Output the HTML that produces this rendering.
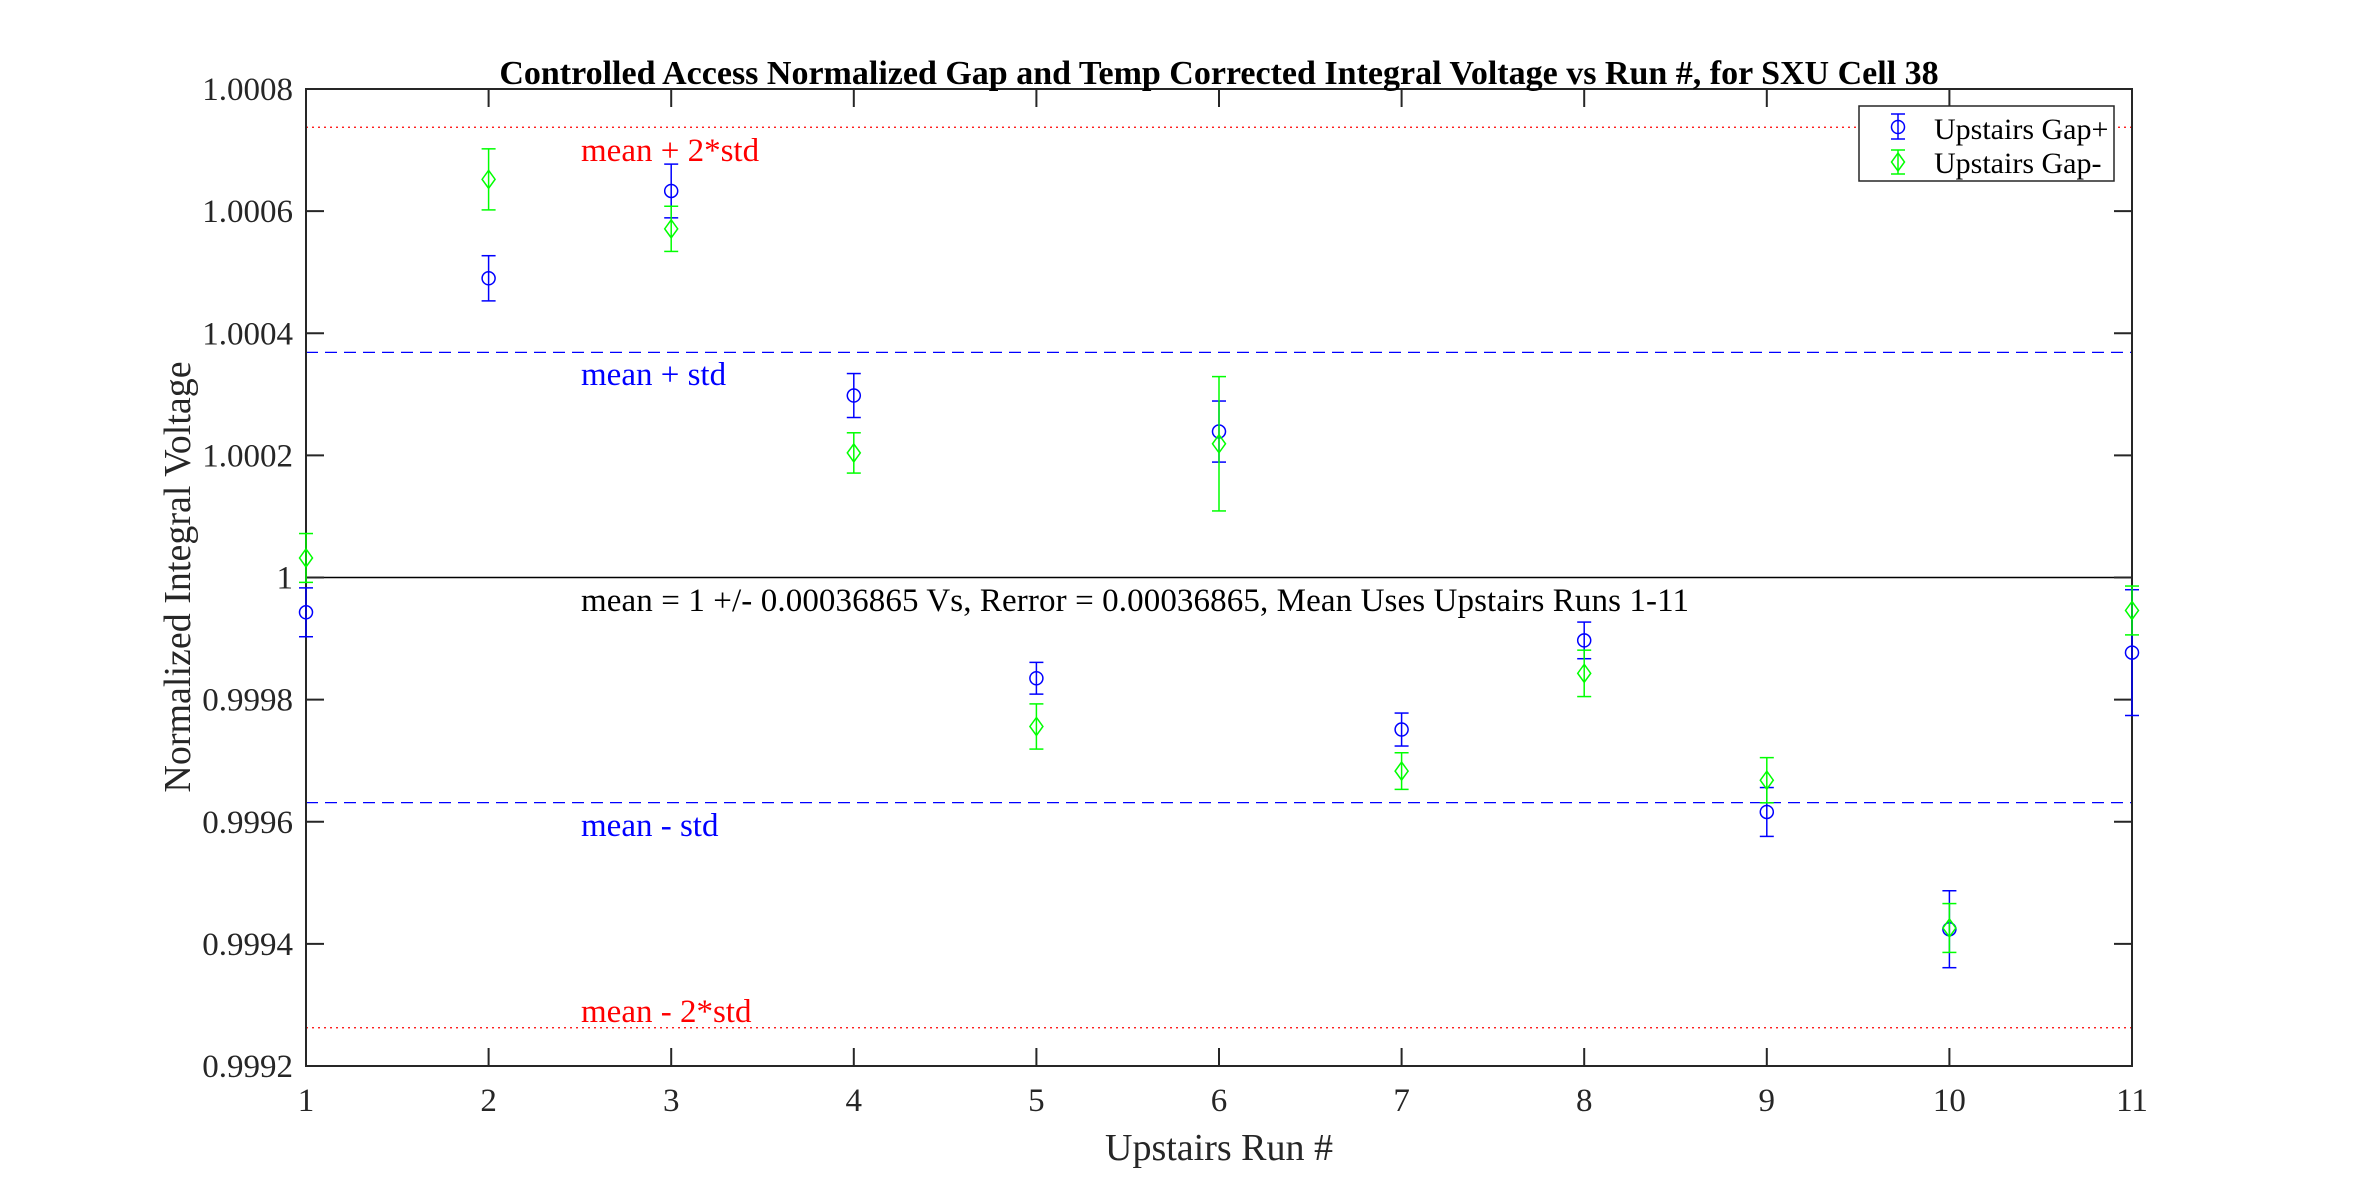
<!DOCTYPE html>
<html><head><meta charset="utf-8"><style>body{margin:0;background:#fff}svg{display:block}</style></head>
<body>
<svg id="s" width="2356" height="1199" xmlns="http://www.w3.org/2000/svg" font-family="Liberation Serif, serif">
<rect width="2356" height="1199" fill="#fff"/>
<g id="g"></g>
<text x="1219" y="84" font-size="34" font-weight="bold" text-anchor="middle">Controlled Access Normalized Gap and Temp Corrected Integral Voltage vs Run #, for SXU Cell 38</text>
<text x="1219" y="1160" font-size="38" text-anchor="middle" fill="#262626">Upstairs Run #</text>
<text transform="translate(190,577) rotate(-90)" font-size="38" text-anchor="middle" fill="#262626">Normalized Integral Voltage</text>
<text x="581" y="161" font-size="33" fill="#f00">mean + 2*std</text>
<text x="581" y="385" font-size="33" fill="#00f">mean + std</text>
<text x="581" y="611" font-size="33" fill="#000" textLength="1108">mean = 1 +/- 0.00036865 Vs, Rerror = 0.00036865, Mean Uses Upstairs Runs 1-11</text>
<text x="581" y="836" font-size="33" fill="#00f">mean - std</text>
<text x="581" y="1022" font-size="33" fill="#f00">mean - 2*std</text>
<rect x="1859" y="106" width="255" height="75" fill="#fff" stroke="#262626" stroke-width="1.5"/>
<text x="1934" y="139" font-size="30">Upstairs Gap+</text>
<text x="1934" y="173" font-size="30">Upstairs Gap-</text>
<g id="lg"></g>
</svg>
<script>
const L=306,R=2132,T=89,B=1066;
const X=r=>L+(r-1)*(R-L)/10, Y=v=>T+(1.0008-v)/0.0016*(B-T);
let h='';
const std=0.00036865;
h+=`<line x1="${L}" x2="${R}" y1="${Y(1+2*std)}" y2="${Y(1+2*std)}" stroke="#f00" stroke-dasharray="2,4" stroke-width="1.3"/>`;
h+=`<line x1="${L}" x2="${R}" y1="${Y(1-2*std)}" y2="${Y(1-2*std)}" stroke="#f00" stroke-dasharray="2,4" stroke-width="1.3"/>`;
h+=`<line x1="${L}" x2="${R}" y1="${Y(1+std)}" y2="${Y(1+std)}" stroke="#00f" stroke-dasharray="12,7" stroke-width="1.3"/>`;
h+=`<line x1="${L}" x2="${R}" y1="${Y(1-std)}" y2="${Y(1-std)}" stroke="#00f" stroke-dasharray="12,7" stroke-width="1.3"/>`;
h+=`<line x1="${L}" x2="${R}" y1="${Y(1)}" y2="${Y(1)}" stroke="#000" stroke-width="1.5"/>`;
h+=`<rect x="${L}" y="${T}" width="${R-L}" height="${B-T}" fill="none" stroke="#262626" stroke-width="2"/>`;
for(let r=1;r<=11;r++){const x=X(r);
 h+=`<line x1="${x}" x2="${x}" y1="${B}" y2="${B-18}" stroke="#262626" stroke-width="2"/><line x1="${x}" x2="${x}" y1="${T}" y2="${T+18}" stroke="#262626" stroke-width="2"/>`;
 h+=`<text x="${x}" y="1111" font-size="33" text-anchor="middle" fill="#262626">${r}</text>`;}
const yt=['0.9992','0.9994','0.9996','0.9998','1','1.0002','1.0004','1.0006','1.0008'];
yt.forEach(t=>{const y=Y(+t);
 h+=`<line x1="${L}" x2="${L+18}" y1="${y}" y2="${y}" stroke="#262626" stroke-width="2"/><line x1="${R}" x2="${R-18}" y1="${y}" y2="${y}" stroke="#262626" stroke-width="2"/>`;
 h+=`<text x="293" y="${y+11}" font-size="33" text-anchor="end" fill="#262626">${t}</text>`;});
const bl=[[0.999943,4e-5],[1.00049,3.7e-5],[1.000633,4.4e-5],[1.000298,3.6e-5],[0.999835,2.6e-5],[1.000239,5e-5],[0.999751,2.7e-5],[0.999897,3e-5],[0.999616,4e-5],[0.999424,6.3e-5],[0.999877,1.03e-4]];
const gr=[[1.000032,4e-5],[1.000652,5e-5],[1.000571,3.7e-5],[1.000204,3.3e-5],[0.999756,3.7e-5],[1.000219,1.1e-4],[0.999683,3e-5],[0.999843,3.8e-5],[0.999668,3.7e-5],[0.999426,4e-5],[0.999946,4e-5]];
function eb(x,y1,y2,c){return `<line x1="${x}" x2="${x}" y1="${y1}" y2="${y2}" stroke="${c}" stroke-width="1.5"/><line x1="${x-7}" x2="${x+7}" y1="${y1}" y2="${y1}" stroke="${c}" stroke-width="1.5"/><line x1="${x-7}" x2="${x+7}" y1="${y2}" y2="${y2}" stroke="${c}" stroke-width="1.5"/>`;}
function circ(x,y){return `<circle cx="${x}" cy="${y}" r="6.5" fill="none" stroke="#00f" stroke-width="1.5"/>`;}
function dia(x,y){return `<polygon points="${x},${y-9} ${x+6.5},${y} ${x},${y+9} ${x-6.5},${y}" fill="none" stroke="#0f0" stroke-width="1.5"/>`;}
bl.forEach((d,i)=>{const x=X(i+1);h+=eb(x,Y(d[0]+d[1]),Y(d[0]-d[1]),'#00f')+circ(x,Y(d[0]));});
gr.forEach((d,i)=>{const x=X(i+1);h+=eb(x,Y(d[0]+d[1]),Y(d[0]-d[1]),'#0f0')+dia(x,Y(d[0]));});
document.getElementById('g').innerHTML=h;
document.getElementById('lg').innerHTML=eb(1898,114,139,'#00f')+circ(1898,127)+eb(1898,150,174,'#0f0')+dia(1898,162);
</script>
</body></html>
